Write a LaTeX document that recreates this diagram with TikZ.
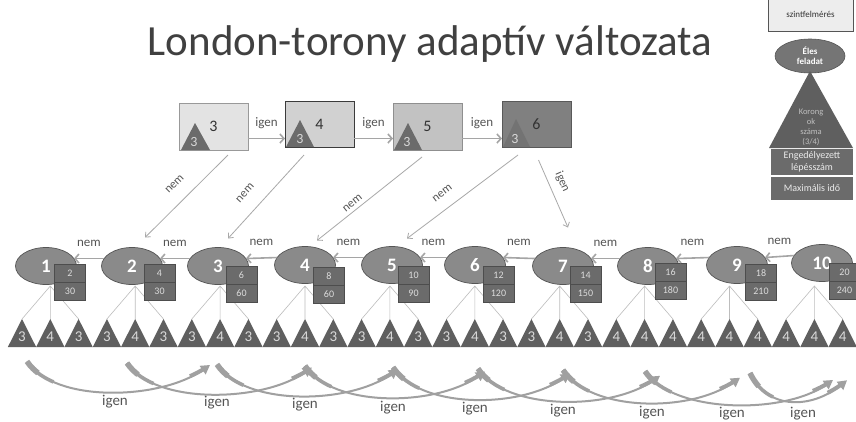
\documentclass[tikz,border=0pt]{standalone}
\usepackage{fontspec}
\setmainfont{Carlito}
\usetikzlibrary{arrows.meta,calc,shapes.geometric}
\newcommand\myfs[1]{\fontsize{#1}{#1}\selectfont}
\definecolor{titleC}{HTML}{404040}
\definecolor{numC}{HTML}{333333}
\definecolor{ellF}{HTML}{8A8A8A}
\definecolor{ellD}{HTML}{555555}
\definecolor{sboxF}{HTML}{6B6B6B}
\definecolor{sboxD}{HTML}{4D4D4D}
\definecolor{sboxT}{HTML}{DCDCDC}
\definecolor{triF}{HTML}{5F5F5F}
\definecolor{triT}{HTML}{D9D9D9}
\definecolor{treeC}{HTML}{BDBDBD}
\definecolor{arrC}{HTML}{A5A5A5}
\definecolor{diagC}{HTML}{A8A8A8}
\definecolor{labC}{HTML}{555555}
\definecolor{arcC}{HTML}{A0A0A0}
\begin{document}
\begin{tikzpicture}[x=1pt,y=-1pt,
 every node/.style={inner sep=1pt, outer sep=0pt},
 topbox/.style={draw, line width=0.9pt, minimum width=69pt, minimum height=47pt, font=\myfs{16}, text=numC},
 ell/.style={ellipse, draw=ellD, fill=ellF, line width=0.7pt, minimum width=61pt, minimum height=37pt, text=white, font=\myfs{19}\bfseries},
 sbox/.style={draw=sboxD, fill=sboxF, line width=0.6pt, minimum width=31pt, minimum height=18pt, text=sboxT, font=\myfs{10}},
 trilab/.style={text=triT, font=\myfs{15}},
 treeline/.style={draw=treeC, line width=0.6pt},
 harrow/.style={draw=arrC, line width=1.6pt, -{Straight Barb[length=4pt,width=9pt]}},
 diag/.style={draw=diagC, line width=0.8pt, -{Straight Barb[length=4pt,width=7pt]}},
 lab/.style={text=labC, font=\myfs{13}},
 dlab/.style={text=labC, font=\myfs{12}},
 arcline/.style={draw=arcC, line cap=butt},
]
\fill[white] (0,0) rectangle (856,421);
\useasboundingbox (0,0) rectangle (856,421);

% title
\node[font=\myfs{43}, text=titleC, anchor=base] (title) at (430,55) {London-torony adaptív változata};

% legend
\node[draw=ellD, fill=white!93!black, line width=0.8pt, minimum width=85pt, minimum height=34pt, font=\myfs{9}, text=numC] (lg1) at (810.5,14) {szintfelmérés};
\node[ellipse, fill=ellF!85!black, draw=ellD, line width=0.6pt, minimum width=70pt, minimum height=34pt, text=white, font=\fontsize{9}{10}\selectfont\bfseries, align=center] (lg2) at (810,56) {Éles\\feladat};
\fill[triF] (769,148) -- (810,71) -- (853,148) -- cycle;
\node[text=white!75!black, font=\fontsize{8.5}{10}\selectfont, align=center] (lg3) at (811,127.5) {Korong\\ok\\száma\\(3/4)};
\node[fill=sboxF, minimum width=82pt, minimum height=26pt, text=white!92!black, align=center, font=\fontsize{10}{12.5}\selectfont] (lg4) at (812,162) {Engedélyezett\\lépésszám};
\node[fill=sboxF, minimum width=82pt, minimum height=23pt, text=white!92!black, font=\myfs{10}] (lg5) at (812,188) {Maximális idő};

% top boxes
\node[topbox, fill=white!89!black, draw=white!60!black] (b3) at (213.5,126.5) {3};
\node[topbox, fill=white!82!black, draw=white!23!black, minimum height=46pt] (b4) at (319.5,124) {4};
\node[topbox, fill=white!76!black, draw=white!56!black] (b5) at (427.5,126.5) {5};
\node[topbox, fill=white!50!black, draw=white!35!black, minimum height=46pt] (b6) at (536.5,124) {6};
\fill[white!42!black] (181,150) -- (195,123) -- (210,150) -- cycle;
\fill[white!42!black] (286,147) -- (300,120) -- (314,147) -- cycle;
\fill[white!42!black] (394,150) -- (408,123) -- (422,150) -- cycle;
\fill[white!45!black] (503,147) -- (516,119) -- (530,147) -- cycle;
\node[text=white!85!black, font=\myfs{14}] (w3) at (194,142) {3};
\node[text=white!85!black, font=\myfs{14}] (w4) at (300,139) {3};
\node[text=white!85!black, font=\myfs{14}] (w5) at (407,142) {3};
\node[text=white!85!black, font=\myfs{14}] (w6) at (515,139) {3};
\draw[harrow] ($(b3.east)+(0,12)$) -- node[above=9pt, lab]{igen} ($(b4.west)+(0,14.5)$);
\draw[harrow] ($(b4.east)+(0,14.5)$) -- node[above=9pt, lab]{igen} ($(b5.west)+(0,12)$);
\draw[harrow] ($(b5.east)+(0,12)$) -- node[above=9pt, lab]{igen} ($(b6.west)+(0,14.5)$);

% triangle apex coordinates
\foreach \k in {0,...,29}{
 \pgfmathsetmacro\tx{22+28.3*\k}
 \coordinate (a\k) at (\tx,319);
}
% tree lines
\foreach \g in {0,...,9}{
 \pgfmathtruncatemacro\ka{3*\g}
 \pgfmathtruncatemacro\kb{3*\g+1}
 \pgfmathtruncatemacro\kc{3*\g+2}
 \coordinate (r\g) at ($(a\kb)+(0,-33)$);
 \draw[treeline] (a\ka) -- (r\g) -- (a\kc) (r\g) -- (a\kb);
}
% triangles
\foreach \k in {0,...,29}{
 \pgfmathsetmacro\tx{22+28.3*\k}
 \pgfmathtruncatemacro\g{int(\k/3)}
 \pgfmathtruncatemacro\m{\k-3*\g}
 \pgfmathtruncatemacro\lab{ifthenelse(\m==1 || \g>6, 4, 3)}
 \fill[triF] (\tx-14.15,347) -- (a\k) -- (\tx+14.15,347) -- cycle;
 \node[trilab] (t\k) at (\tx,337) {\lab};
}

% ellipses and boxes
\foreach \i/\x/\y/\bx/\by/\p/\q in {1/46/266/70/282/2/30, 2/132/266/159.5/282/4/30, 3/218/266/241.5/284.5/6/60, 4/305/265/329/285.5/8/60, 5/392/265/413.5/284.5/10/90, 6/475/265/498.5/284.5/12/120, 7/563/266/585.5/284.5/14/150, 8/648/266/670.5/281.5/16/180, 9/737/265/761/282.5/18/210, 10/822/263/844.5/281.5/20/240}{
 \node[ell] (e\i) at (\x,\y) {\i};
 \node[sbox] (p\i) at (\bx,\by-9) {\p};
 \node[sbox] (q\i) at (\bx,\by+9) {\q};
}
\foreach \i in {1,...,9}{
 \pgfmathtruncatemacro\j{\i+1}
 \draw[harrow] (e\j.165) -- node[above=11pt, lab]{nem} (e\i.15);
}

% diagonal arrows
\draw[diag] ($(b3.south east)+(-20,5)$) -- node[sloped, above=13pt, dlab, pos=0.5]{nem} ($(e2.north)+(13,-10)$);
\draw[diag] ($(b4.south east)+(-50,8)$) -- node[sloped, above=14pt, dlab, pos=0.6]{nem} ($(e3.north)+(10,-9)$);
\draw[diag] ($(b5.south east)+(-40,7)$) -- node[sloped, above=3pt, dlab, pos=0.62]{nem} ($(e4.north)+(12,-6)$);
\draw[diag] ($(b6.south west)+(16,8)$) -- node[sloped, above=11pt, dlab, pos=0.6]{nem} ($(e5.north)+(15,-8)$);
\draw[diag] ($(b6.south)+(2,13)$) -- node[sloped, above=7pt, dlab, pos=0.4]{igen} ($(e7.north)+(5,-20)$);

% bottom arcs
\foreach \s/\e/\ax/\ay/\bxx/\byy [count=\n] in {27/210/28/42/-50/35, 127/312/28/42/-50/35, 217/398/28/42/-50/35, 305/485/28/42/-50/35, 393/570/28/42/-50/35, 478/660/28/42/-50/35, 563/740/28/42/-50/35, 645/833/28/42/-50/35, 750/847/18/38/-35/28}{
 \pgfmathsetmacro\ys{361+0.016*\s}
 \pgfmathsetmacro\ye{365+0.024*(\e-210)}
 \coordinate (as\n) at (\s,\ys);
 \coordinate (ae\n) at (\e,\ye);
 \draw[arcline, line width=2pt, -{Triangle[length=9pt,width=10pt]}] (as\n) .. controls +(\ax,\ay) and +(\bxx,\byy) .. (ae\n);
 \draw[arcline, line width=3.6pt, dash pattern=on 34pt off 2000pt] (as\n) .. controls +(\ax,\ay) and +(\bxx,\byy) .. (ae\n);
 \draw[arcline, line width=5.5pt, dash pattern=on 16pt off 2000pt] (as\n) .. controls +(\ax,\ay) and +(\bxx,\byy) .. (ae\n);
 \draw[arcline, line width=4pt, dash pattern=on 0pt off 7pt on 16pt off 2000pt] (ae\n) .. controls +(\bxx,\byy) and +(\ax,\ay) .. (as\n);
}
\foreach \x/\y [count=\n] in {115/402,217/403,305/405,393/408,475/409,563/411,652/413,732/414,803/414}{
 \node[lab, font=\myfs{15}] (ig\n) at (\x,\y) {igen};
}
\end{tikzpicture}
\end{document}
